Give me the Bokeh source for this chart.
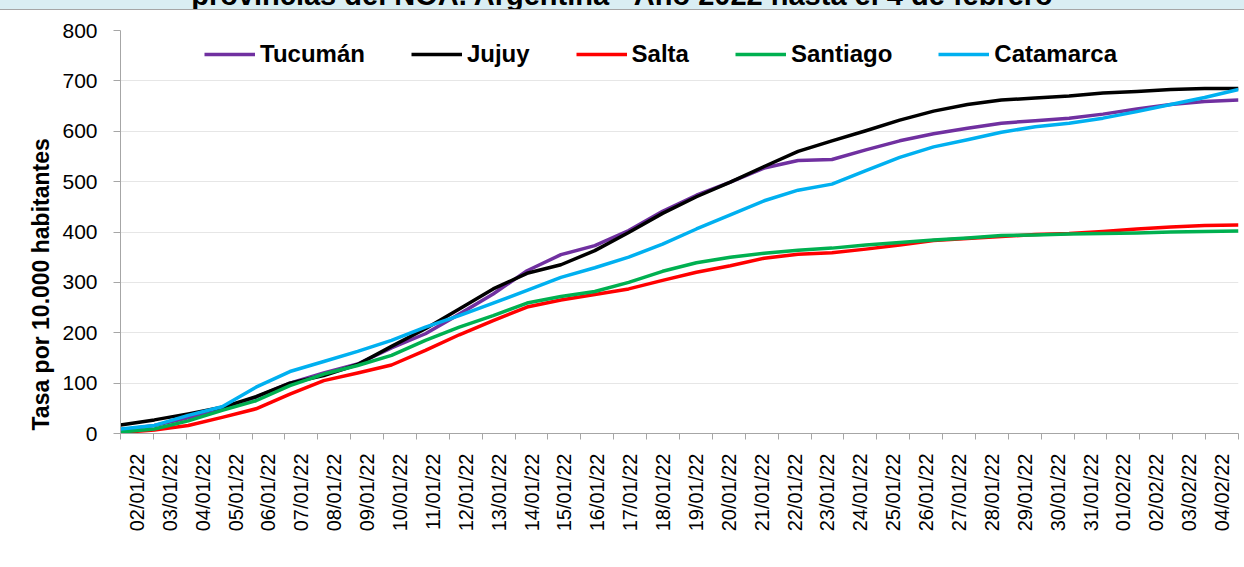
from math import pi
from bokeh.plotting import figure
from bokeh.layouts import column
from bokeh.models import (Range1d, LinearAxis, FixedTicker, CustomJSTickFormatter,
                          SingleIntervalTicker, Legend, LegendItem, Div, Title)
from bokeh.embed import file_html
from bokeh.resources import INLINE

title_text = "provincias del NOA. Argentina - Año 2022 hasta el 4 de febrero"
y_label = "Tasa por 10.000 habitantes"

dates = ["02/01/22", "03/01/22", "04/01/22", "05/01/22", "06/01/22", "07/01/22",
         "08/01/22", "09/01/22", "10/01/22", "11/01/22", "12/01/22", "13/01/22",
         "14/01/22", "15/01/22", "16/01/22", "17/01/22", "18/01/22", "19/01/22",
         "20/01/22", "21/01/22", "22/01/22", "23/01/22", "24/01/22", "25/01/22",
         "26/01/22", "27/01/22", "28/01/22", "29/01/22", "30/01/22", "31/01/22",
         "01/02/22", "02/02/22", "03/02/22", "04/02/22"]

tucuman = [7, 16, 31, 49, 72, 100, 120, 138, 170, 198, 237, 277, 323, 355, 373, 403, 441,
           473, 499, 527, 542, 544, 563, 581, 595, 606, 616, 621, 626, 634, 644, 653, 659, 662]
jujuy = [17, 27, 39, 52, 73, 100, 115, 137, 173, 208, 247, 287, 318, 335, 363, 399, 437,
         470, 499, 530, 560, 581, 601, 622, 640, 653, 662, 666, 670, 676, 679, 683, 685, 685]
salta = [2, 7, 16, 32, 49, 78, 105, 120, 136, 165, 196, 224, 251, 265, 276, 287, 304,
         320, 333, 348, 356, 359, 366, 374, 383, 387, 391, 395, 397, 401, 406, 410, 413, 414]
santiago = [3, 9, 25, 46, 65, 95, 118, 135, 155, 185, 211, 234, 259, 272, 282, 300, 322,
            339, 350, 358, 364, 368, 374, 379, 384, 388, 393, 394, 396, 397, 398, 400, 401, 402]
catamarca = [9, 16, 36, 53, 92, 123, 143, 163, 185, 211, 234, 259, 284, 310, 329, 350, 376,
             406, 434, 462, 483, 495, 522, 548, 569, 583, 598, 609, 616, 626, 639, 653, 667, 683]

series = [("Tucumán", tucuman, "#7030A0"),
          ("Jujuy", jujuy, "#000000"),
          ("Salta", salta, "#FF0000"),
          ("Santiago", santiago, "#00B050"),
          ("Catamarca", catamarca, "#00B0F0")]

FONT = "Liberation Sans"
n = len(dates)
xs = list(range(n))

# cropped title band at the top (as in the reference image)
band = Div(
    text=('<div style="position:absolute; left:0; width:1244px; top:-19px; '
          'text-align:center; white-space:nowrap; font-family:\'Liberation Sans\'; '
          'font-weight:bold; font-size:29px; line-height:29px; color:#000;">'
          + title_text + '</div>'),
    width=1244, height=10,
    styles={"background-color": "#DAEEF3", "overflow": "hidden",
            "border-bottom": "1px solid #A6A6A6", "box-sizing": "border-box",
            "position": "relative", "margin": "0", "padding": "0"})

p = figure(width=1244, height=557, output_backend="svg", toolbar_location=None,
           x_range=Range1d(0, n - 1), y_range=Range1d(0, 800),
           x_axis_location=None,
           min_border_left=120, min_border_right=6, min_border_top=20,
           min_border_bottom=134)
p.outline_line_color = None
p.background_fill_color = "white"
p.border_fill_color = "white"

p.extra_x_ranges = {"cat": Range1d(0, n)}
xaxis = LinearAxis(
    x_range_name="cat",
    ticker=FixedTicker(ticks=[i + 0.5 for i in range(n)], minor_ticks=list(range(n + 1))),
    formatter=CustomJSTickFormatter(args=dict(labels=dates),
                                    code="return labels[Math.floor(tick)] || '';"))
xaxis.major_tick_out = 0
xaxis.major_tick_in = 0
xaxis.minor_tick_out = 6
xaxis.minor_tick_in = 0
xaxis.minor_tick_line_color = "#A6A6A6"
xaxis.axis_line_color = "#A6A6A6"
xaxis.major_label_orientation = pi / 2
xaxis.major_label_standoff = 14
xaxis.major_label_text_font = FONT
xaxis.major_label_text_font_size = "20px"
xaxis.major_label_text_color = "#000000"
p.add_layout(xaxis, "below")

yax = p.yaxis[0]
yax.ticker = SingleIntervalTicker(interval=100, num_minor_ticks=0)
yax.major_tick_out = 7
yax.major_tick_in = 0
yax.minor_tick_out = 0
yax.minor_tick_in = 0
yax.major_tick_line_color = "#A6A6A6"
yax.axis_line_color = "#A6A6A6"
yax.major_label_standoff = 16
yax.major_label_text_font = FONT
yax.major_label_text_font_size = "21px"
yax.major_label_text_color = "#000000"

# y-axis title as a side title, anchored near the bottom of the frame
ytitle = Title(text=y_label, align="left", offset=3, standoff=12,
               text_font=FONT, text_font_style="bold", text_font_size="23px",
               text_color="#000000")
p.add_layout(ytitle, "left")

p.xgrid.visible = False
p.ygrid.grid_line_color = "#E6E6E6"
p.ygrid.grid_line_width = 1
p.ygrid.ticker = SingleIntervalTicker(interval=100, num_minor_ticks=0)

items = []
for name, vals, color in series:
    r = p.line(xs, vals, line_color=color, line_width=3.5, line_join="round")
    items.append(LegendItem(label=name, renderers=[r]))

legend = Legend(items=items, orientation="horizontal", location=(84, 365),
                glyph_width=51, glyph_height=24, label_standoff=5, spacing=46,
                padding=0, margin=0, border_line_color=None,
                background_fill_alpha=0,
                label_text_font=FONT, label_text_font_style="bold",
                label_text_font_size="24px", label_text_color="#000000")
p.add_layout(legend)

layout = column(band, p, spacing=0)
open("out.html", "w").write(file_html(layout, INLINE))
